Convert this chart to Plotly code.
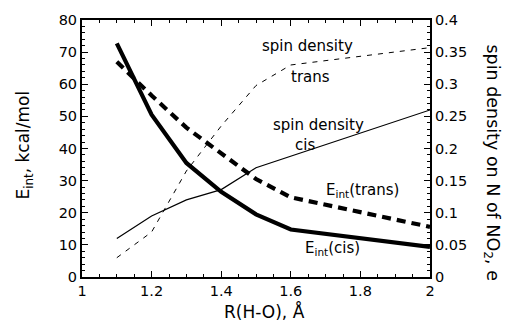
import plotly.graph_objects as go

r_ho = [1.1, 1.2, 1.3, 1.4, 1.5, 1.6, 2.0]
eint_cis = [72.7, 50.5, 35.5, 26.5, 19.5, 14.8, 9.4]
eint_trans = [67.0, 56.5, 46.5, 38.5, 30.5, 24.8, 15.6]
spin_cis = [0.06, 0.095, 0.12, 0.136, 0.17, 0.188, 0.26]
spin_trans = [0.03, 0.07, 0.165, 0.235, 0.298, 0.33, 0.357]

FONT = "DejaVu Sans"

fig = go.Figure()
fig.add_trace(go.Scatter(x=r_ho, y=eint_cis, mode="lines",
                         line=dict(color="black", width=4.2)))
fig.add_trace(go.Scatter(x=r_ho, y=eint_trans, mode="lines",
                         line=dict(color="black", width=4.2, dash="9px,6px")))
fig.add_trace(go.Scatter(x=r_ho, y=spin_cis, mode="lines", yaxis="y2",
                         line=dict(color="black", width=1.2)))
fig.add_trace(go.Scatter(x=r_ho, y=spin_trans, mode="lines", yaxis="y2",
                         line=dict(color="black", width=1.0, dash="5px,6px")))

ann_font = dict(family=FONT, size=15, color="black")
labels = [
    (1.648, 72.0, "spin density"),
    (1.657, 62.2, "trans"),
    (1.681, 47.4, "spin density"),
    (1.641, 41.2, "cis"),
    (1.805, 26.8, "E<sub>int</sub>(trans)"),
    (1.721, 8.9, "E<sub>int</sub>(cis)"),
]
annotations = [dict(x=x, y=y, xref="x", yref="y", text=t, showarrow=False,
                    font=ann_font, xanchor="center", yanchor="middle")
               for x, y, t in labels]
annotations += [
    dict(x=0.523, y=-0.135, xref="paper", yref="paper", text="R(H-O), Å",
         showarrow=False, font=dict(family=FONT, size=17, color="black"),
         xanchor="center", yanchor="middle"),
    dict(x=-0.164, y=0.515, xref="paper", yref="paper",
         text="E<sub>int</sub>, kcal/mol", textangle=-90, showarrow=False,
         font=dict(family=FONT, size=17, color="black"),
         xanchor="center", yanchor="middle"),
    dict(x=1.178, y=0.446, xref="paper", yref="paper",
         text="spin density on N of NO<sub>2</sub>, e", textangle=90,
         showarrow=False, font=dict(family=FONT, size=17.5, color="black"),
         xanchor="center", yanchor="middle"),
]

tick_font = dict(family=FONT, size=14.5, color="black")
fig.update_layout(
    width=507, height=324,
    margin=dict(l=82, r=77, t=17, b=47),
    paper_bgcolor="white", plot_bgcolor="white",
    showlegend=False,
    annotations=annotations,
    xaxis=dict(range=[1, 2], dtick=0.2, tick0=1, ticks="inside", ticklen=6,
               tickwidth=1.2, tickcolor="black", showgrid=False, zeroline=False,
               showline=True, linecolor="black", linewidth=2, mirror="ticks",
               tickfont=tick_font,
               minor=dict(dtick=0.05, tick0=1, ticks="inside", ticklen=3,
                          tickwidth=1, tickcolor="black", showgrid=False)),
    yaxis=dict(range=[0, 80], dtick=10, ticks="inside", ticklen=6,
               tickwidth=1.2, tickcolor="black", showgrid=False, zeroline=False,
               showline=True, linecolor="black", linewidth=2,
               tickfont=tick_font,
               minor=dict(dtick=2, ticks="inside", ticklen=3, tickwidth=1,
                          tickcolor="black", showgrid=False)),
    yaxis2=dict(range=[0, 0.4], dtick=0.05, overlaying="y", side="right",
                ticks="inside", ticklen=6, tickwidth=1.2, tickcolor="black",
                showgrid=False, zeroline=False, showline=True,
                linecolor="black", linewidth=2, tickfont=tick_font,
                tickformat="~g",
                minor=dict(dtick=0.01, ticks="inside", ticklen=3, tickwidth=1,
                           tickcolor="black", showgrid=False)),
)

fig.write_html("out.html",
               config={"displayModeBar": False, "staticPlot": True},
               post_script="document.body.style.margin='0';"
                           "document.body.style.overflow='hidden';")
